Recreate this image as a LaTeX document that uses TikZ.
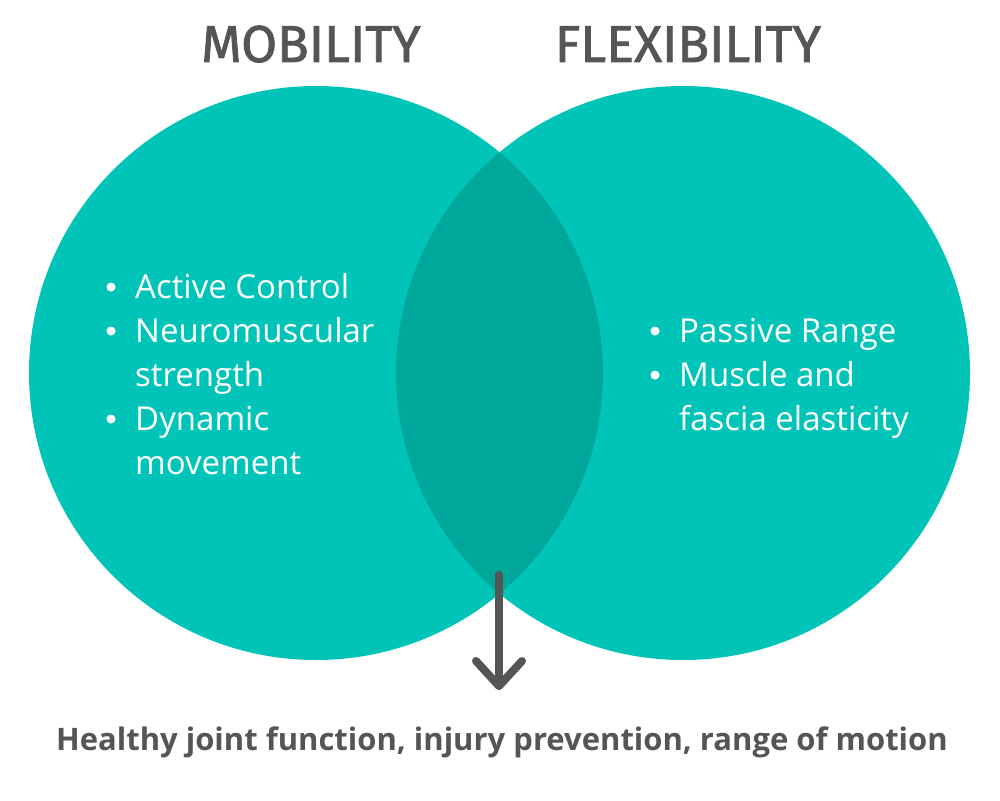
\documentclass[tikz,border=0pt]{standalone}
\usepackage{fontspec}
\setmainfont{Open Sans}
\newfontfamily\titlefont[FakeBold=1.5]{Fira Sans}
\definecolor{teal}{HTML}{00C4B8}
\definecolor{lensc}{HTML}{00A89C}
\definecolor{greyc}{HTML}{555555}
\tikzset{
  bul/.style={anchor=base west, text=white, font=\fontsize{33}{36}\selectfont, inner sep=0pt},
  dot/.style={circle, fill=white, inner sep=0pt, minimum size=9pt},
  ttl/.style={anchor=base, text=greyc, font=\titlefont\fontsize{52}{56}\selectfont, inner sep=0pt},
  arr/.style={draw=greyc, line width=8pt, line cap=round, line join=round}
}
\begin{document}
\begin{tikzpicture}[x=1pt,y=-1pt]
\useasboundingbox (0,0) rectangle (1000,800);
\fill[white] (0,0) rectangle (1000,800);
\fill[teal] (316,373) circle (287pt);
\fill[teal] (683,373) circle (287pt);
\begin{scope}
  \clip (316,373) circle (287pt);
  \fill[lensc] (683,373) circle (287pt);
\end{scope}
\node[ttl] (t1) at (311,62) {MOBILITY};
\node[ttl] (t2) at (688,62) {FLEXIBILITY};
% left bullets
\node[dot] (b1) at (111,287) {};
\node[bul] (l1) at (135,298) {Active Control};
\node[dot] (b2) at (111,331) {};
\node[bul] (l2) at (135,342) {Neuromuscular};
\node[bul] (l3) at (135,386) {strength};
\node[dot] (b3) at (111,419) {};
\node[bul] (l4) at (135,430) {Dynamic};
\node[bul] (l5) at (135,474) {movement};
% right bullets
\node[dot] (b4) at (655,331) {};
\node[bul] (r1) at (679,342) {Passive Range};
\node[dot] (b5) at (655,375) {};
\node[bul] (r2) at (679,386) {Muscle and};
\node[bul] (r3) at (679,430) {fascia elasticity};
% arrow
\coordinate (atop) at (499,575);
\coordinate (atip) at (499,686);
\draw[arr] (atop) -- (atip);
\draw[arr] (atip) ++(-23,-25) -- (atip) -- ++(23,-25);
\node[anchor=base, text=greyc, font=\bfseries\fontsize{31}{34}\selectfont, inner sep=0pt] (bottom) at (502,750) {Healthy joint function, injury prevention, range of motion};
\end{tikzpicture}
\end{document}
